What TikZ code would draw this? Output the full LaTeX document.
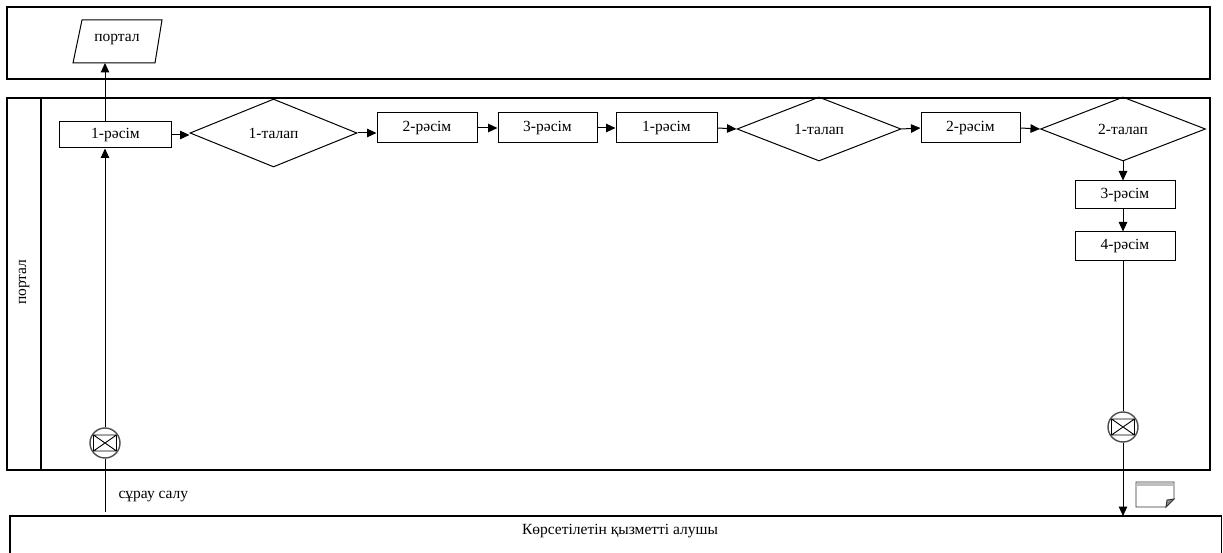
\documentclass[tikz,border=0pt]{standalone}
\usepackage{fontspec}
\setmainfont{Liberation Serif}
\usetikzlibrary{arrows.meta,shapes.geometric}

\begin{document}
\begin{tikzpicture}[x=1bp,y=-1bp,
  every node/.style={font=\fontsize{15.5bp}{18bp}\selectfont},
  lane/.style={draw, line width=1.2bp},
  stepbox/.style={draw, line width=1bp, inner sep=0pt, minimum width=100bp, minimum height=30bp},
  gatebox/.style={draw, diamond, line width=1bp, inner sep=0pt, minimum width=165bp, minimum height=64bp},
  arr/.style={-{Triangle[length=9.5bp,width=8.5bp]}, line width=1bp},
  link/.style={line width=1bp},
  gate/.style={circle, draw=black!70, line width=1.4bp, minimum size=30bp, inner sep=0pt,
    path picture={
      \draw[black, line width=0.9bp]
        ([xshift=-11.5bp,yshift=-8bp]path picture bounding box.center) rectangle
        ([xshift=11.5bp,yshift=8bp]path picture bounding box.center)
        ([xshift=-11.5bp,yshift=-8bp]path picture bounding box.center) --
        ([xshift=11.5bp,yshift=8bp]path picture bounding box.center)
        ([xshift=-11.5bp,yshift=8bp]path picture bounding box.center) --
        ([xshift=11.5bp,yshift=-8bp]path picture bounding box.center);
    }},
]
\useasboundingbox (0,0) rectangle (1223,553);

% swimlanes
\draw[lane] (7,7) rectangle (1210,79);
\draw[lane] (7,98) rectangle (1210,470);
\draw[lane] (41,98) -- (41,470);
\draw[lane] (10,516) rectangle (1221.5,600);

\node[rotate=90] (lanename) at (24,282) {портал};
\node (client) at (620,531) {Көрсетілетін қызметті алушы};

% portal (data) shape
\draw[line width=1bp] (82,20) -- (162,20) -- (155,63) -- (73,63) -- cycle;
\node (portalio) at (117,40) {портал};
\coordinate (portalin) at (105,63);

% process steps
\node[stepbox, minimum width=111bp, minimum height=26bp] (r1a) at (115.5,135) {1-рәсім};
\node[gatebox, minimum width=167bp, minimum height=68bp] (d1a) at (273.5,133) {1-талап};
\node[stepbox] (r2a) at (427,128) {2-рәсім};
\node[stepbox, minimum width=99bp] (r3a) at (547.5,128) {3-рәсім};
\node[stepbox, minimum width=101bp] (r1b) at (666.5,128) {1-рәсім};
\node[gatebox, minimum width=164bp] (d1b) at (819,129) {1-талап};
\node[stepbox, minimum width=99bp] (r2b) at (970.5,128) {2-рәсім};
\node[gatebox] (d2) at (1123,129) {2-талап};
\node[stepbox, minimum height=28bp] (r3c) at (1125,195) {3-рәсім};
\node[stepbox, minimum height=29bp] (r4c) at (1125,246.5) {4-рәсім};

% events
\node[gate] (g1) at (105,443) {};
\node[gate] (g2) at (1123,427) {};
\coordinate (g1end) at (105,512);
\coordinate (g2end) at (1123,516);
\node[anchor=west] (request) at (115,497) {сұрау салу};

% document mark
\draw[line width=0.9bp, draw=black!80, fill=white] (1136,482) -- (1174,482) -- (1174,499) -- (1166,507) -- (1136,507) -- cycle;
\fill[black!25] (1136.6,482.6) rectangle (1173.4,486);
\draw[line width=0.9bp, draw=black!80, fill=black!45] (1174,499) -- (1167,500) -- (1166,507) -- cycle;

% connectors
\draw[arr] (g1) -- (g1 |- r1a.south);
\draw[link] (g1) -- (g1end);
\draw[arr] (g1 |- r1a.north) -- (portalin);
\draw[arr] (r1a.east) -- (r1a.east -| d1a.west);
\draw[arr] (d1a.east) -- (d1a.east -| r2a.west);
\draw[arr] (r2a.east) -- (r3a.west);
\draw[arr] (r3a.east) -- (r1b.west);
\draw[arr] (r1b.east) -- (d1b.west);
\draw[arr] (d1b.east) -- (r2b.west);
\draw[arr] (r2b.east) -- (d2.west);
\draw[arr] (d2.south) -- (d2.south |- r3c.north);
\draw[arr] (d2.south |- r3c.south) -- (d2.south |- r4c.north);
\draw[link] (d2.south |- r4c.south) -- (g2);
\draw[arr] (g2) -- (g2end);
\end{tikzpicture}
\end{document}
